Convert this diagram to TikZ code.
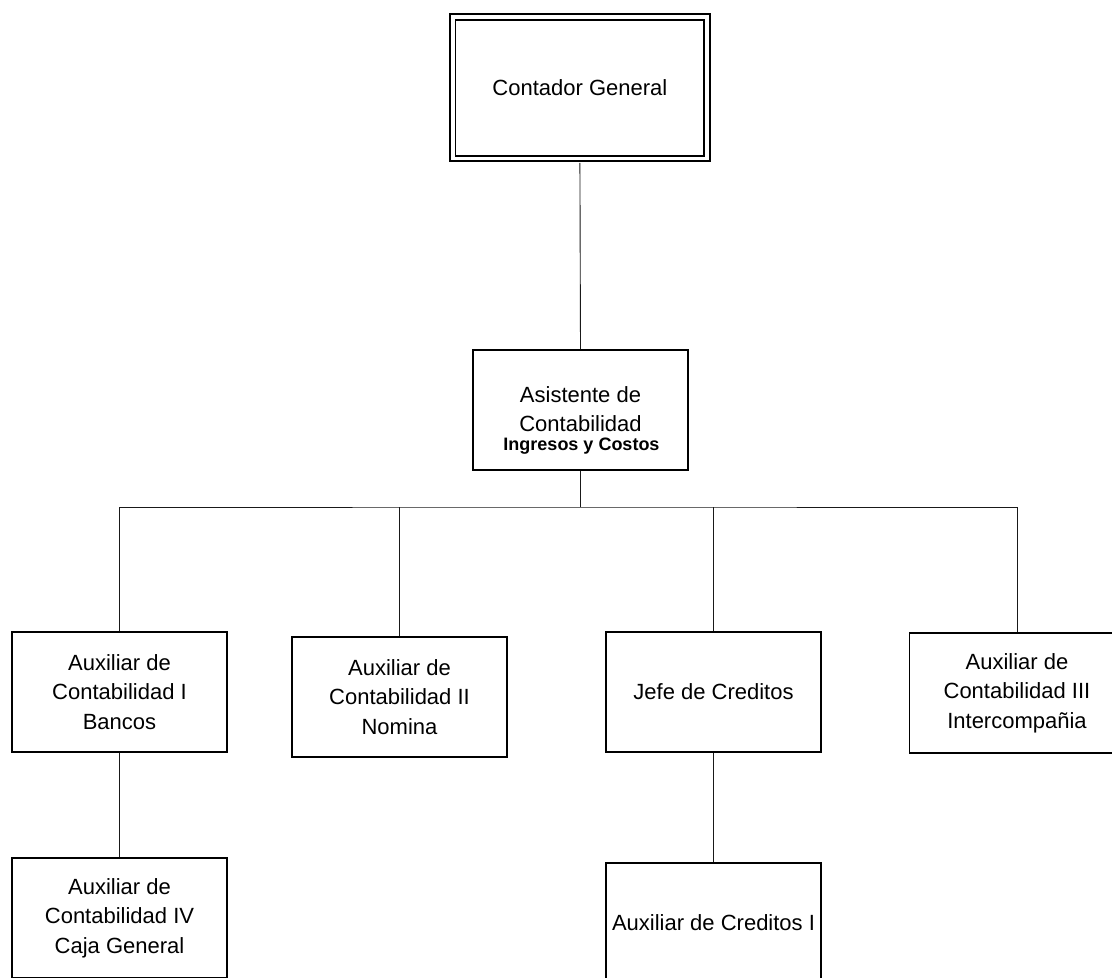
\documentclass[tikz,border=0pt]{standalone}
\usepackage{fontspec}
\setmainfont{Liberation Sans}
\begin{document}
\begin{tikzpicture}[x=1pt,y=-1pt,
  box/.style={draw=black, line width=1.6pt, minimum width=215, minimum height=120,
    inner sep=0pt, align=center, font=\fontsize{22}{29.5}\selectfont},
  txt/.style={inner sep=0pt, anchor=base, font=\fontsize{22}{29.5}\selectfont},
  subtxt/.style={inner sep=0pt, anchor=base, font=\fontsize{18}{20}\selectfont\bfseries},
  conn/.style={draw=black!90, line width=0.9pt}]
\useasboundingbox (0,0) rectangle (1112,978);
\clip (0,0) rectangle (1112,978);

% head of the department, double frame
\node[draw=black, double, line width=1.8pt, double distance=3.7pt,
  minimum width=254.25, minimum height=141.5, inner sep=0pt,
  font=\fontsize{22}{29.5}\selectfont] (head) at (579.9,87.75) {Contador General};

% assistant
\node[box] (asist) at (580.5,410) {};
\node[txt] (asistA) at (580.5,402) {Asistente de};
\node[txt] (asistB) at (580.5,431) {Contabilidad};
\node[subtxt] (asistC) at (581.5,450) {Ingresos y Costos};

% second level
\node[box] (aux1) at (119.5,692) {Auxiliar de\\Contabilidad I\\Bancos};
\node[box] (aux2) at (399.5,697) {Auxiliar de\\Contabilidad II\\Nomina};
\node[box] (jefe) at (713.5,692) {Jefe de Creditos};
\node[box] (aux3) at (1017,693) {Auxiliar de\\Contabilidad III\\Intercompañia};

% third level
\node[box] (aux4) at (119.5,918) {Auxiliar de\\Contabilidad IV\\Caja General};
\node[box] (auxc) at (713.5,923) {Auxiliar de Creditos I};

% connectors
\coordinate (bus) at (580.5,507);
\draw[conn, shorten <=3.5pt] (head.south) -- (asist.north);
\draw[conn] (asist.south) -- (bus);
\draw[conn] (aux1.north) |- (bus) -| (aux3.north);
\draw[conn] (aux2.north) -- (aux2.north |- bus);
\draw[conn] (jefe.north) -- (jefe.north |- bus);
\draw[conn] (aux1.south) -- (aux4.north);
\draw[conn] (jefe.south) -- (auxc.north);
\end{tikzpicture}
\end{document}
